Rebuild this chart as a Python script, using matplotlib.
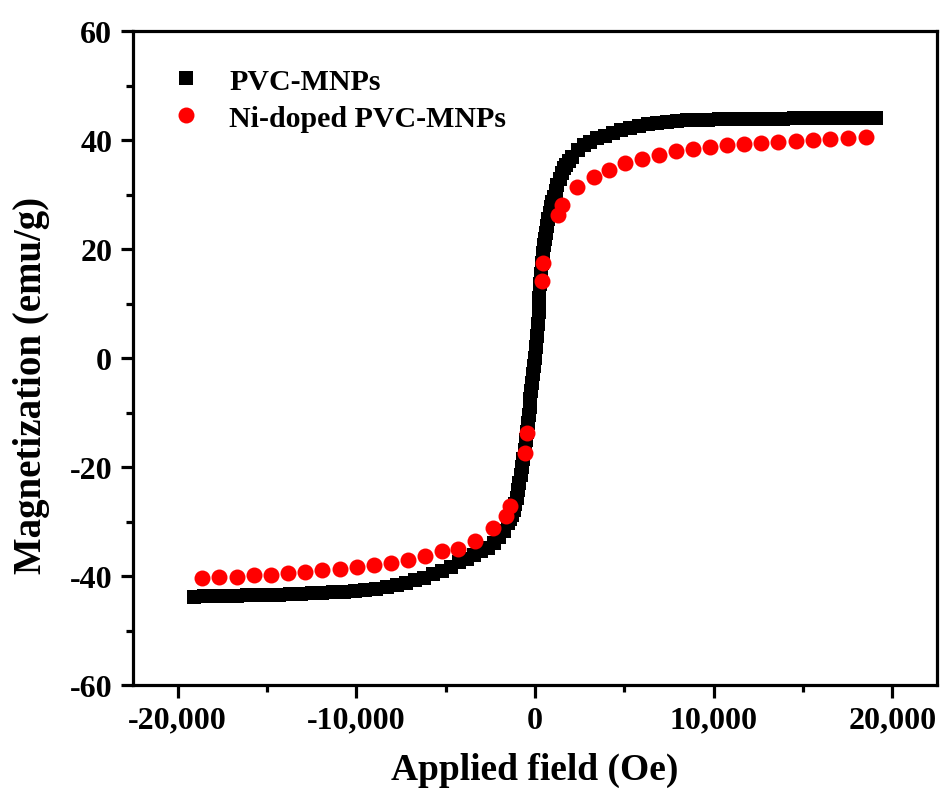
import matplotlib
matplotlib.use("Agg")
import matplotlib.pyplot as plt
from matplotlib.ticker import MultipleLocator, FuncFormatter

# PVC-MNPs (black squares), field in Oe, magnetization in emu/g
pvc_h = [-19100, -18500, -17900, -17300, -16700, -16100, -15500, -14900, -14300, -13700,
         -13100, -12500, -11900, -11300, -10700, -10100, -9500, -8900, -8300, -7700,
         -7200, -6700, -6200, -5700, -5200, -4700, -4250, -3800, -3400, -3000,
         -2650, -2300, -2000, -1750, -1500, -1400, -1300, -1200, -1100, -1025,
         -950, -875, -800, -725, -650, -575, -500, -450, -400, -350,
         -300, -250, -200, -150, -100, -50, 0, 50, 100, 150,
         200, 250, 300, 350, 400, 450, 500, 550, 600, 675,
         750, 825, 900, 975, 1050, 1150, 1250, 1375, 1500, 1625,
         1750, 1900, 2050, 2400, 2750, 3100, 3500, 3900, 4350, 4800,
         5300, 5800, 6300, 6850, 7400, 7950, 8500, 9100, 9700, 10300,
         10900, 11500, 12100, 12700, 13300, 13900, 14500, 15100, 15700, 16300,
         16900, 17500, 18100, 18600, 19100]
pvc_m = [-43.8, -43.7, -43.7, -43.6, -43.6, -43.5, -43.5, -43.4, -43.4, -43.3,
         -43.3, -43.2, -43.1, -43.0, -42.9, -42.7, -42.5, -42.3, -42.0, -41.6,
         -41.2, -40.8, -40.3, -39.7, -39.0, -38.3, -37.5, -36.8, -36.1, -35.5,
         -34.8, -33.9, -32.8, -31.7, -30.3, -29.6, -28.8, -27.9, -26.8, -25.6,
         -24.3, -22.9, -21.5, -20.0, -18.5, -16.8, -15.0, -13.6, -12.0, -10.5,
         -9.0, -7.5, -6.0, -4.5, -3.0, -1.5, 0.0, 2.0, 4.0, 6.2,
         8.5, 11.0, 13.5, 15.5, 17.5, 19.2, 20.8, 21.9, 23.0, 24.3,
         25.5, 26.7, 27.8, 28.7, 29.6, 30.7, 31.8, 32.9, 34.0, 34.8,
         35.5, 36.2, 36.9, 38.2, 39.0, 39.7, 40.3, 40.8, 41.3, 41.8,
         42.2, 42.6, 42.9, 43.1, 43.3, 43.5, 43.6, 43.7, 43.7, 43.8,
         43.8, 43.8, 43.9, 43.9, 43.9, 43.9, 44.0, 44.0, 44.0, 44.0,
         44.0, 44.0, 44.1, 44.1, 44.1]

# Ni-doped PVC-MNPs (red circles)
ni_h = [-18650, -17700, -16700, -15750, -14750, -13800, -12850, -11900, -10900, -9950,
        -9000, -8050, -7100, -6150, -5200, -4300, -3350, -2350, -1600, -1400,
        -560, -450, 400, 450, 1300, 1500, 2350, 3300, 4150, 5050,
        6000, 6950, 7900, 8850, 9800, 10750, 11700, 12650, 13600, 14600,
        15550, 16500, 17500, 18550]
ni_m = [-40.4, -40.2, -40.2, -39.9, -39.8, -39.4, -39.3, -38.9, -38.7, -38.3,
        -37.9, -37.6, -37.0, -36.4, -35.5, -35.0, -33.6, -31.2, -29.0, -27.2,
        -17.4, -13.8, 14.1, 17.4, 26.3, 28.0, 31.3, 33.2, 34.5, 35.7,
        36.6, 37.3, 37.9, 38.4, 38.7, 39.0, 39.2, 39.4, 39.6, 39.8,
        40.0, 40.1, 40.3, 40.5]

plt.rcParams['font.family'] = ['Liberation Serif', 'DejaVu Serif']
plt.rcParams['font.weight'] = 'bold'

fig = plt.figure(figsize=(9.41, 8.03), dpi=100)
ax = fig.add_axes([0.1413, 0.1457, 0.8544, 0.8144])

ax.plot(pvc_h, pvc_m, 's', color='black', markersize=9.6, markeredgewidth=0,
        label='PVC-MNPs')
ax.plot(ni_h, ni_m, 'o', color='#ff0000', markersize=11.5, markeredgewidth=0,
        label='Ni-doped PVC-MNPs')

ax.set_xlim(-22500, 22500)
ax.set_ylim(-60, 60)
ax.xaxis.set_major_locator(MultipleLocator(10000))
ax.xaxis.set_minor_locator(MultipleLocator(5000))
ax.yaxis.set_major_locator(MultipleLocator(20))
ax.yaxis.set_minor_locator(MultipleLocator(10))
ax.xaxis.set_major_formatter(FuncFormatter(lambda v, p: f"{int(v):,}"))
ax.yaxis.set_major_formatter(FuncFormatter(lambda v, p: f"{int(v)}"))

for s in ax.spines.values():
    s.set_linewidth(2.3)
ax.tick_params(which='major', direction='out', length=9, width=2.3,
               labelsize=23, top=False, right=False, pad=6)
ax.tick_params(which='minor', direction='out', length=5, width=2.3,
               top=False, right=False)
for lab in ax.get_xticklabels() + ax.get_yticklabels():
    lab.set_fontweight('bold')

ax.set_xlabel('Applied field (Oe)', fontsize=27, fontweight='bold', labelpad=12)
ax.set_ylabel('Magnetization (emu/g)', fontsize=28, fontweight='bold')
ax.yaxis.set_label_coords(-0.103, 0.46)

# legend sits in the upper left, no frame
leg = ax.legend(loc='upper left', bbox_to_anchor=(0.014, 0.985), frameon=False,
                prop={'size': 21.5, 'weight': 'bold'}, handlelength=1.0,
                handletextpad=0.95, labelspacing=0.33, markerscale=1.0)

fig.savefig('out.png', dpi=100)
